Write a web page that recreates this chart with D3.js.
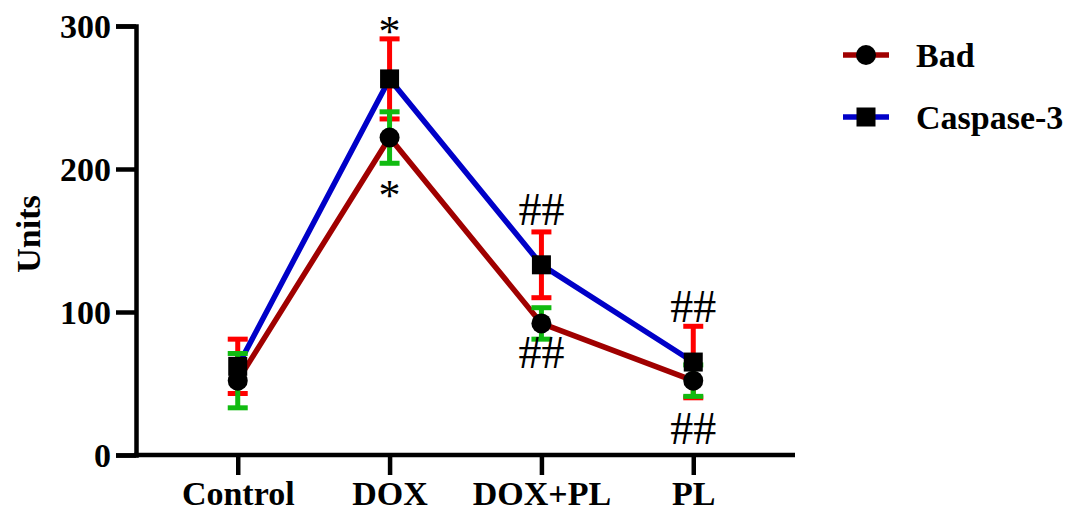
<!DOCTYPE html>
<html>
<head>
<meta charset="utf-8">
<script src="https://cdn.jsdelivr.net/npm/d3@7"></script>
<style>
  body { margin: 0; background: #fff; }
  text { font-family: "Liberation Serif", "Times New Roman", serif; }
</style>
</head>
<body>
<svg id="chart" width="1068" height="512"></svg>
<script>
let groups = ["Control", "DOX", "DOX+PL", "PL"];
let badMean = [52, 222, 92, 52];
let badErr = [19, 18, 11, 11];
let caspMean = [62, 263, 133, 65];
let caspErr = [19, 28, 23, 25];
let yTicks = [0, 100, 200, 300];
// marques de significativité : [groupe, valeur, texte]
let marks = [
    ["DOX", 303, "*"], ["DOX", 188, "*"],
    ["DOX+PL", 172, "##"], ["DOX+PL", 72, "##"],
    ["PL", 104, "##"], ["PL", 19, "##"]
];

let svg = d3.select('#chart');

let x = d3.scalePoint()
    .domain(groups)
    .range([136, 795])
    .padding(0.67);

let y = d3.scaleLinear()
    .domain([0, 300])
    .range([455, 26]);

// axes
let yAxis = d3.axisLeft(y).tickValues(yTicks).tickSize(20).tickPadding(5);
let gy = svg.append('g')
    .attr('transform', 'translate(136,0)')
    .call(yAxis);

let xAxis = d3.axisBottom(x).tickSize(20).tickPadding(6);
let gx = svg.append('g')
    .attr('transform', 'translate(0,455)')
    .call(xAxis);

gx.select('.domain').attr('d', 'M134,0H795');

[gy, gx].forEach(function (g) {
    g.selectAll('.domain').attr('stroke', '#000').attr('stroke-width', 4.5);
    g.selectAll('.tick line').attr('stroke', '#000').attr('stroke-width', 4.5);
    g.selectAll('.tick text')
        .attr('fill', '#000')
        .style('font-size', '34px')
        .style('font-weight', 'bold')
        .style('font-family', '"Liberation Serif", serif');
});
gy.selectAll('.tick text').attr('dy', '0.35em');

svg.append('text')
    .attr('transform', 'translate(28,234) rotate(-90)')
    .attr('text-anchor', 'middle')
    .attr('dy', '0.35em')
    .style('font-size', '34px')
    .style('font-weight', 'bold')
    .text('Units');

// courbes
let line = d3.line()
    .x(function (d, i) { return x(groups[i]); })
    .y(function (d) { return y(d); });

svg.append('path')
    .attr('d', line(badMean))
    .attr('fill', 'none')
    .attr('stroke', '#a00000')
    .attr('stroke-width', 5.5);

svg.append('path')
    .attr('d', line(caspMean))
    .attr('fill', 'none')
    .attr('stroke', '#0000c8')
    .attr('stroke-width', 5.5);

// barres d'erreur
function errorBars(mean, err, color) {
    mean.forEach(function (m, i) {
        let cx = x(groups[i]);
        let g = svg.append('g')
            .attr('stroke', color)
            .attr('stroke-width', 5);
        g.append('line')
            .attr('x1', cx).attr('x2', cx)
            .attr('y1', y(m - err[i])).attr('y2', y(m + err[i]));
        [m - err[i], m + err[i]].forEach(function (v) {
            g.append('line')
                .attr('x1', cx - 10).attr('x2', cx + 10)
                .attr('y1', y(v)).attr('y2', y(v));
        });
    });
}
errorBars(caspMean, caspErr, '#ff0000');
errorBars(badMean, badErr, '#11bb11');

// points
caspMean.forEach(function (d, i) {
    svg.append('rect')
        .attr('x', x(groups[i]) - 9.5)
        .attr('y', y(d) - 9.5)
        .attr('width', 19)
        .attr('height', 19)
        .attr('fill', '#000');
});
badMean.forEach(function (d, i) {
    svg.append('circle')
        .attr('cx', x(groups[i]))
        .attr('cy', y(d))
        .attr('r', 10)
        .attr('fill', '#000');
});

marks.forEach(function (m) {
    svg.append('text')
        .attr('x', x(m[0]))
        .attr('y', y(m[1]))
        .attr('text-anchor', 'middle')
        .attr('dy', m[2] == '*' ? '0.55em' : '0.35em')
        .style('font-size', m[2] == '*' ? '44px' : '46px')
        .text(m[2]);
});

// légende
let legend = [["Bad", '#a00000', 'circle'], ["Caspase-3", '#0000c8', 'rect']];
legend.forEach(function (l, i) {
    let ly = 55 + i * 62;
    svg.append('line')
        .attr('x1', 843).attr('x2', 889)
        .attr('y1', ly).attr('y2', ly)
        .attr('stroke', l[1])
        .attr('stroke-width', 5.5);
    if (l[2] == 'circle') {
        svg.append('circle').attr('cx', 866).attr('cy', ly).attr('r', 10).attr('fill', '#000');
    } else {
        svg.append('rect').attr('x', 856.5).attr('y', ly - 9.5).attr('width', 19).attr('height', 19).attr('fill', '#000');
    }
    svg.append('text')
        .attr('x', 916)
        .attr('y', ly)
        .attr('dy', '0.35em')
        .style('font-size', '34px')
        .style('font-weight', 'bold')
        .text(l[0]);
});
</script>
</body>
</html>
